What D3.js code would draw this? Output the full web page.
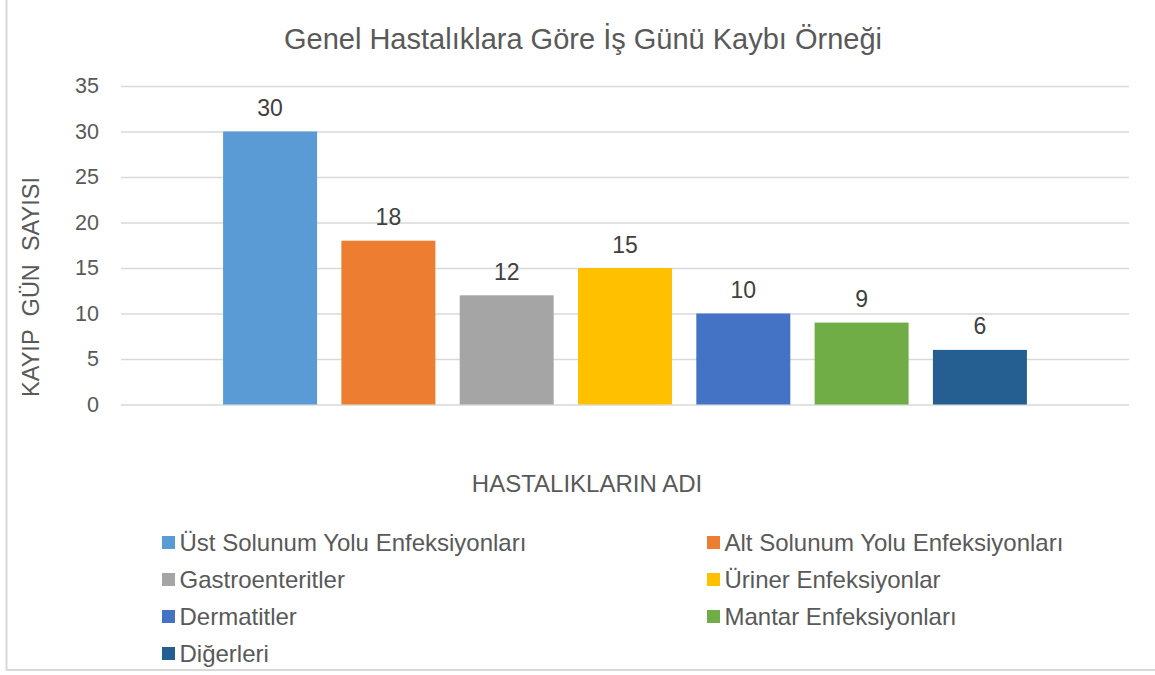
<!DOCTYPE html>
<meta charset="utf-8">
<title>Genel Hastalıklara Göre İş Günü Kaybı Örneği</title>
<style>
body { margin: 0; background: white; }
svg { font-family: "Liberation Sans", Arial, sans-serif; }
.grid line { stroke: #d9d9d9; stroke-width: 1.5px; }
.grid path { display: none; }
.yaxis path, .yaxis line { display: none; }
.yaxis text { fill: #595959; font-size: 21.5px; }
</style>
<body>
<script src="https://d3js.org/d3.v7.min.js"></script>
<script>

// data
var names = ["Üst Solunum Yolu Enfeksiyonları", "Alt Solunum Yolu Enfeksiyonları",
  "Gastroenteritler", "Üriner Enfeksiyonlar", "Dermatitler",
  "Mantar Enfeksiyonları", "Diğerleri"];
var values = [30, 18, 12, 15, 10, 9, 6];
var colors = ["#5b9bd5", "#ed7d31", "#a5a5a5", "#ffc000", "#4472c4", "#70ad47", "#255e91"];
var yTicks = [0, 5, 10, 15, 20, 25, 30, 35];

var data = names.map(function(n, i) { return {name: n, value: values[i], color: colors[i]}; });

var width = 1155, height = 675;
var plot = {left: 121, right: 1129, top: 86, bottom: 404.5};

var svg = d3.select("body").append("svg")
    .attr("width", width)
    .attr("height", height);

// chart border (only left and bottom visible in the crop)
svg.append("rect")
    .attr("x", 6.5).attr("y", -10)
    .attr("width", 1200).attr("height", 680)
    .attr("fill", "white")
    .attr("stroke", "#d9d9d9")
    .attr("stroke-width", 2);

var y = d3.scaleLinear()
    .domain([0, 35])
    .range([plot.bottom, plot.top]);

// one category, the seven diseases are series inside it
var x0 = d3.scaleBand()
    .domain([""])
    .range([plot.left, plot.right])
    .paddingOuter(0.127);

var x1 = d3.scaleBand()
    .domain(names)
    .range([0, x0.bandwidth()])
    .paddingInner(0.2056);

// gridlines
svg.append("g")
    .attr("class", "grid")
    .attr("transform", "translate(" + plot.left + ",0)")
    .call(d3.axisRight(y).tickValues(yTicks).tickSize(plot.right - plot.left).tickFormat(""));

svg.append("g")
    .attr("class", "yaxis")
    .attr("transform", "translate(" + (plot.left - 22) + ",0)")
    .call(d3.axisLeft(y).tickValues(yTicks).tickSize(0).tickPadding(0));

// bars
var g = svg.append("g").attr("transform", "translate(" + x0("") + ",0)");

g.selectAll("rect")
  .data(data)
  .enter()
  .append("rect")
    .attr("x", function(d) { return x1(d.name); })
    .attr("y", function(d) { return y(d.value); })
    .attr("width", x1.bandwidth())
    .attr("height", function(d) { return y(0) - y(d.value); })
    .attr("fill", function(d) { return d.color; });

g.selectAll(".lbl")
  .data(data)
  .enter()
  .append("text")
    .attr("class", "lbl")
    .attr("x", function(d) { return x1(d.name) + x1.bandwidth() / 2; })
    .attr("y", function(d) { return y(d.value) - 15.5; })
    .attr("text-anchor", "middle")
    .style("font-size", "23px")
    .style("fill", "#404040")
    .text(function(d) { return d.value; });

// title
svg.append("text")
    .attr("x", 583)
    .attr("y", 49)
    .attr("text-anchor", "middle")
    .style("font-size", "29px")
    .style("fill", "#595959")
    .text("Genel Hastalıklara Göre İş Günü Kaybı Örneği");

// axis titles
svg.append("text")
    .attr("transform", "translate(39,287)rotate(-90)")
    .attr("text-anchor", "middle")
    .style("font-size", "23.5px")
    .style("fill", "#595959")
    .text("KAYIP\u00a0\u00a0GÜN\u00a0\u00a0SAYISI");

svg.append("text")
    .attr("x", 587)
    .attr("y", 492)
    .attr("text-anchor", "middle")
    .style("font-size", "24px")
    .style("fill", "#595959")
    .text("HASTALIKLARIN ADI");

// legend, two columns
var legend = svg.append("g")
  .selectAll("g")
  .data(data)
  .enter()
  .append("g")
    .attr("transform", function(d, i) {
      return "translate(" + (i % 2 ? 707 : 162) + "," + (542.5 + Math.floor(i / 2) * 37) + ")";
    });

legend.append("rect")
    .attr("y", -6.5)
    .attr("width", 13)
    .attr("height", 13)
    .attr("fill", function(d) { return d.color; });

legend.append("text")
    .attr("x", 17.5)
    .attr("y", 8.5)
    .style("font-size", "24px")
    .style("fill", "#595959")
    .text(function(d) { return d.name; });

</script>
</body>
